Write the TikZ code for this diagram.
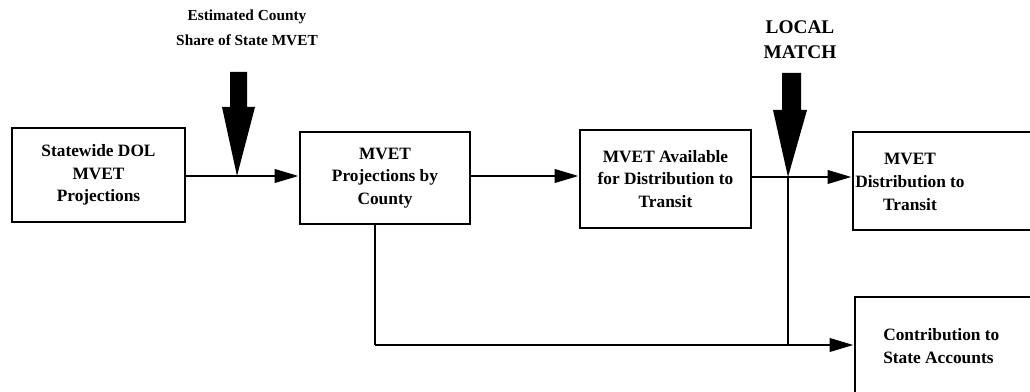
\documentclass[tikz,border=0pt]{standalone}
\usepackage{fontspec}
\setmainfont{Liberation Serif}
\usetikzlibrary{arrows.meta}
\begin{document}
\begin{tikzpicture}[x=0.75pt,y=-0.75pt,
  box/.style={draw,line width=2.2pt,inner sep=0pt,align=center,font=\fontsize{13}{17}\selectfont\bfseries},
  txt/.style={inner sep=0pt,align=center,font=\fontsize{13}{17}\selectfont\bfseries},
  flow/.style={line width=2.2pt,-{Triangle[length=18pt,width=10pt]}},
  line/.style={line width=2.2pt},
  bigarrow/.style={fill=black}]
\useasboundingbox (0,0) rectangle (1030,392);
% boxes
\node[box,minimum width=129.75pt,minimum height=70.5pt] (b1) at (98.5,175) {Statewide DOL\\MVET\\Projections};
\node[box,minimum width=127.5pt,minimum height=69pt] (b2) at (385,178) {MVET\\Projections by\\County};
\node[box,minimum width=128.25pt,minimum height=73.5pt] (b3) at (665.5,179) {MVET Available\\for Distribution to\\Transit};
\node[box,minimum width=140.25pt,minimum height=73.5pt] (b4) at (946.5,181) {};
\node[txt] (t4) at (910,182) {MVET\\Distribution to\\Transit};
\node[box,minimum width=140.25pt,minimum height=90pt] (b5) at (948.5,357) {};
\node[txt,align=left,anchor=west] (t5) at (883,346) {Contribution to\\State Accounts};
% labels
\node[txt,font=\fontsize{11.5}{19}\selectfont\bfseries] (l1) at (247,28) {Estimated County\\Share of State MVET};
\node[txt,font=\fontsize{14.5}{19}\selectfont\bfseries] (l2) at (800,40) {LOCAL\\MATCH};
% junctions
\coordinate (j1) at (237,176);
\coordinate (j2) at (788,177);
\coordinate (c1) at (375,345);
\coordinate (c2) at (788,345);
% connectors
\draw[flow] (b1.east |- j1) -- (b2.west |- j1);
\draw[flow] (b2.east |- j1) -- (b3.west |- j1);
\draw[flow] (b3.east |- j2) -- (b4.west |- j2);
\draw[line] (j2) -- (c2);
\draw[line] (b2.south -| c1) -- (c1);
\draw[flow] (c1) -- (b5.west |- c1);
% big arrows
\fill[bigarrow] (230,72) -- (247,72) -- (247,107) -- (255,107) -- (j1) -- (222,107) -- (230,107) -- cycle;
\fill[bigarrow] (782,73) -- (801,73) -- (801,110) -- (807,110) -- (j2) -- (773,110) -- (782,110) -- cycle;
\end{tikzpicture}
\end{document}
